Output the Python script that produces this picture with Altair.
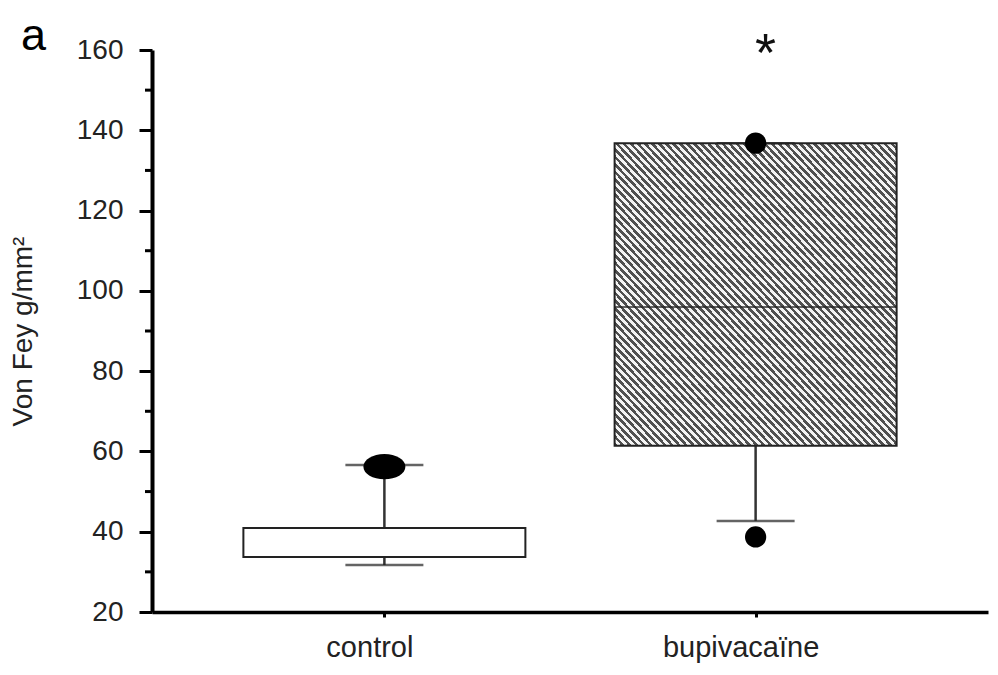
import altair as alt
import pandas as pd

# ---- data ----
groups = ["control", "bupivacaïne"]
q1 = [33.7, 61.4]
median = [33.7, 96.0]
q3 = [40.9, 136.8]
whisk_lo = [31.7, 42.7]
whisk_hi = [56.6, 136.8]

out_group = ["control", "bupivacaïne", "bupivacaïne"]
out_value = [56.2, 136.8, 38.7]

major_ticks = [20, 40, 60, 80, 100, 120, 140, 160]
minor_ticks = [30, 50, 70, 90, 110, 130, 150]

sig_group = ["bupivacaïne"]
sig_label = ["*"]
sig_value = [160]

panel_label = ["a"]

FONT = "Liberation Sans"

box = pd.DataFrame({"group": groups, "q1": q1, "median": median, "q3": q3,
                    "lo": whisk_lo, "hi": whisk_hi})
out = pd.DataFrame({"group": out_group, "value": out_value})
minor = pd.DataFrame({"v": minor_ticks})
sig = pd.DataFrame({"group": sig_group, "label": sig_label, "value": sig_value})
pan = pd.DataFrame({"label": panel_label})

yscale = alt.Scale(domain=[20, 160], nice=False, zero=False)
xscale = alt.Scale(type="point", domain=groups, padding=0.626)

xaxis = alt.Axis(labelAngle=0, tickSize=5, tickWidth=3, tickColor="black",
                 domainWidth=3.5, domainColor="black", labelFont=FONT,
                 labelFontSize=29, labelColor="#222", labelPadding=16,
                 labelOffset=-15, grid=False, title=None)
yaxis = alt.Axis(values=major_ticks, tickSize=13, tickWidth=3, tickColor="black",
                 domainWidth=4, domainColor="black", labelFont=FONT,
                 labelFontSize=28, labelColor="#222", labelPadding=16,
                 title="Von Fey g/mm²", titleFont=FONT, titleFontSize=28,
                 titleFontWeight="normal", titleColor="#222", titlePadding=39,
                 grid=False)

X = alt.X("group:N", scale=xscale, axis=xaxis, title=None)
Xs = alt.X("group:N", title=None)

# striped (hatched) fill
N = 80
dark, light = "#505050", "#f4f4f4"
stops = []
for i in range(N):
    t0 = i / N
    tm = (i + 0.5) / N
    t1 = (i + 1) / N
    stops += [alt.GradientStop(offset=t0, color=dark), alt.GradientStop(offset=tm, color=dark),
              alt.GradientStop(offset=tm, color=light), alt.GradientStop(offset=t1, color=light)]
hatch = alt.Gradient(gradient="linear", stops=stops, x1=0, y1=1, x2=1, y2=0)

BOXW = 282
CAPW = 78
YT = "Von Fey g/mm²"

whisk_up = alt.Chart(box).mark_rule(color="#333", strokeWidth=2.5).encode(
    x=X, y=alt.Y("q3:Q", scale=yscale, axis=yaxis, title=YT), y2="hi:Q")
whisk_dn = alt.Chart(box).mark_rule(color="#333", strokeWidth=2.5).encode(
    x=Xs, y=alt.Y("lo:Q", title=YT), y2="q1:Q")

caps_hi = alt.Chart(box).mark_tick(color="#222", size=CAPW, thickness=2.5).encode(
    x=Xs, y=alt.Y("hi:Q", title=YT))
caps_lo = alt.Chart(box).mark_tick(color="#222", size=CAPW, thickness=2.5).encode(
    x=Xs, y=alt.Y("lo:Q", title=YT))

box_ctrl = alt.Chart(box).transform_filter(alt.datum.group == groups[0]).mark_bar(
    size=BOXW, fill="white", stroke="#222", strokeWidth=2).encode(
    x=Xs, y=alt.Y("q1:Q", title=YT), y2="q3:Q")
box_bupi = alt.Chart(box).transform_filter(alt.datum.group == groups[1]).mark_bar(
    size=BOXW, fill=hatch, stroke="#222", strokeWidth=2).encode(
    x=Xs, y=alt.Y("q1:Q", title=YT), y2="q3:Q")

med = alt.Chart(box).mark_tick(color="#222", size=BOXW, thickness=2).encode(
    x=Xs, y=alt.Y("median:Q", title=YT))

ellipse = "M -1 0 A 1 0.6 0 1 0 1 0 A 1 0.6 0 1 0 -1 0 Z"
out_ctrl = alt.Chart(out).transform_filter(alt.datum.group == groups[0]).mark_point(
    shape=ellipse, size=1764, filled=True, color="black", opacity=1).encode(
    x=Xs, y=alt.Y("value:Q", title=YT))
out_bupi = alt.Chart(out).transform_filter(alt.datum.group == groups[1]).mark_point(
    shape="circle", size=452, filled=True, color="black", opacity=1).encode(
    x=Xs, y=alt.Y("value:Q", title=YT))

minor_ticks_layer = alt.Chart(minor).mark_rule(color="black", strokeWidth=3).encode(
    y=alt.Y("v:Q", title=YT), x=alt.value(-7), x2=alt.value(0))

star = alt.Chart(sig).mark_text(fontSize=54, font=FONT, color="#111", dx=10, dy=21,
                                baseline="alphabetic").encode(
    x=Xs, y=alt.Y("value:Q", title=YT), text="label:N")

panel = alt.Chart(pan).mark_text(fontSize=45, font=FONT, color="black", align="left",
                                 baseline="alphabetic").encode(
    x=alt.value(-131), y=alt.value(0), text="label:N")

chart = alt.layer(
    whisk_up, whisk_dn, box_ctrl, box_bupi, med, caps_hi, caps_lo,
    out_ctrl, out_bupi, minor_ticks_layer, star, panel
).properties(
    width=836, height=562,
    autosize=alt.AutoSizeParams(type="none"),
    padding={"left": 144, "top": 42, "right": 2, "bottom": 62}
).configure(background="white").configure_view(stroke=None)

chart.save("out.html", embed_options={"renderer": "svg", "actions": False})
